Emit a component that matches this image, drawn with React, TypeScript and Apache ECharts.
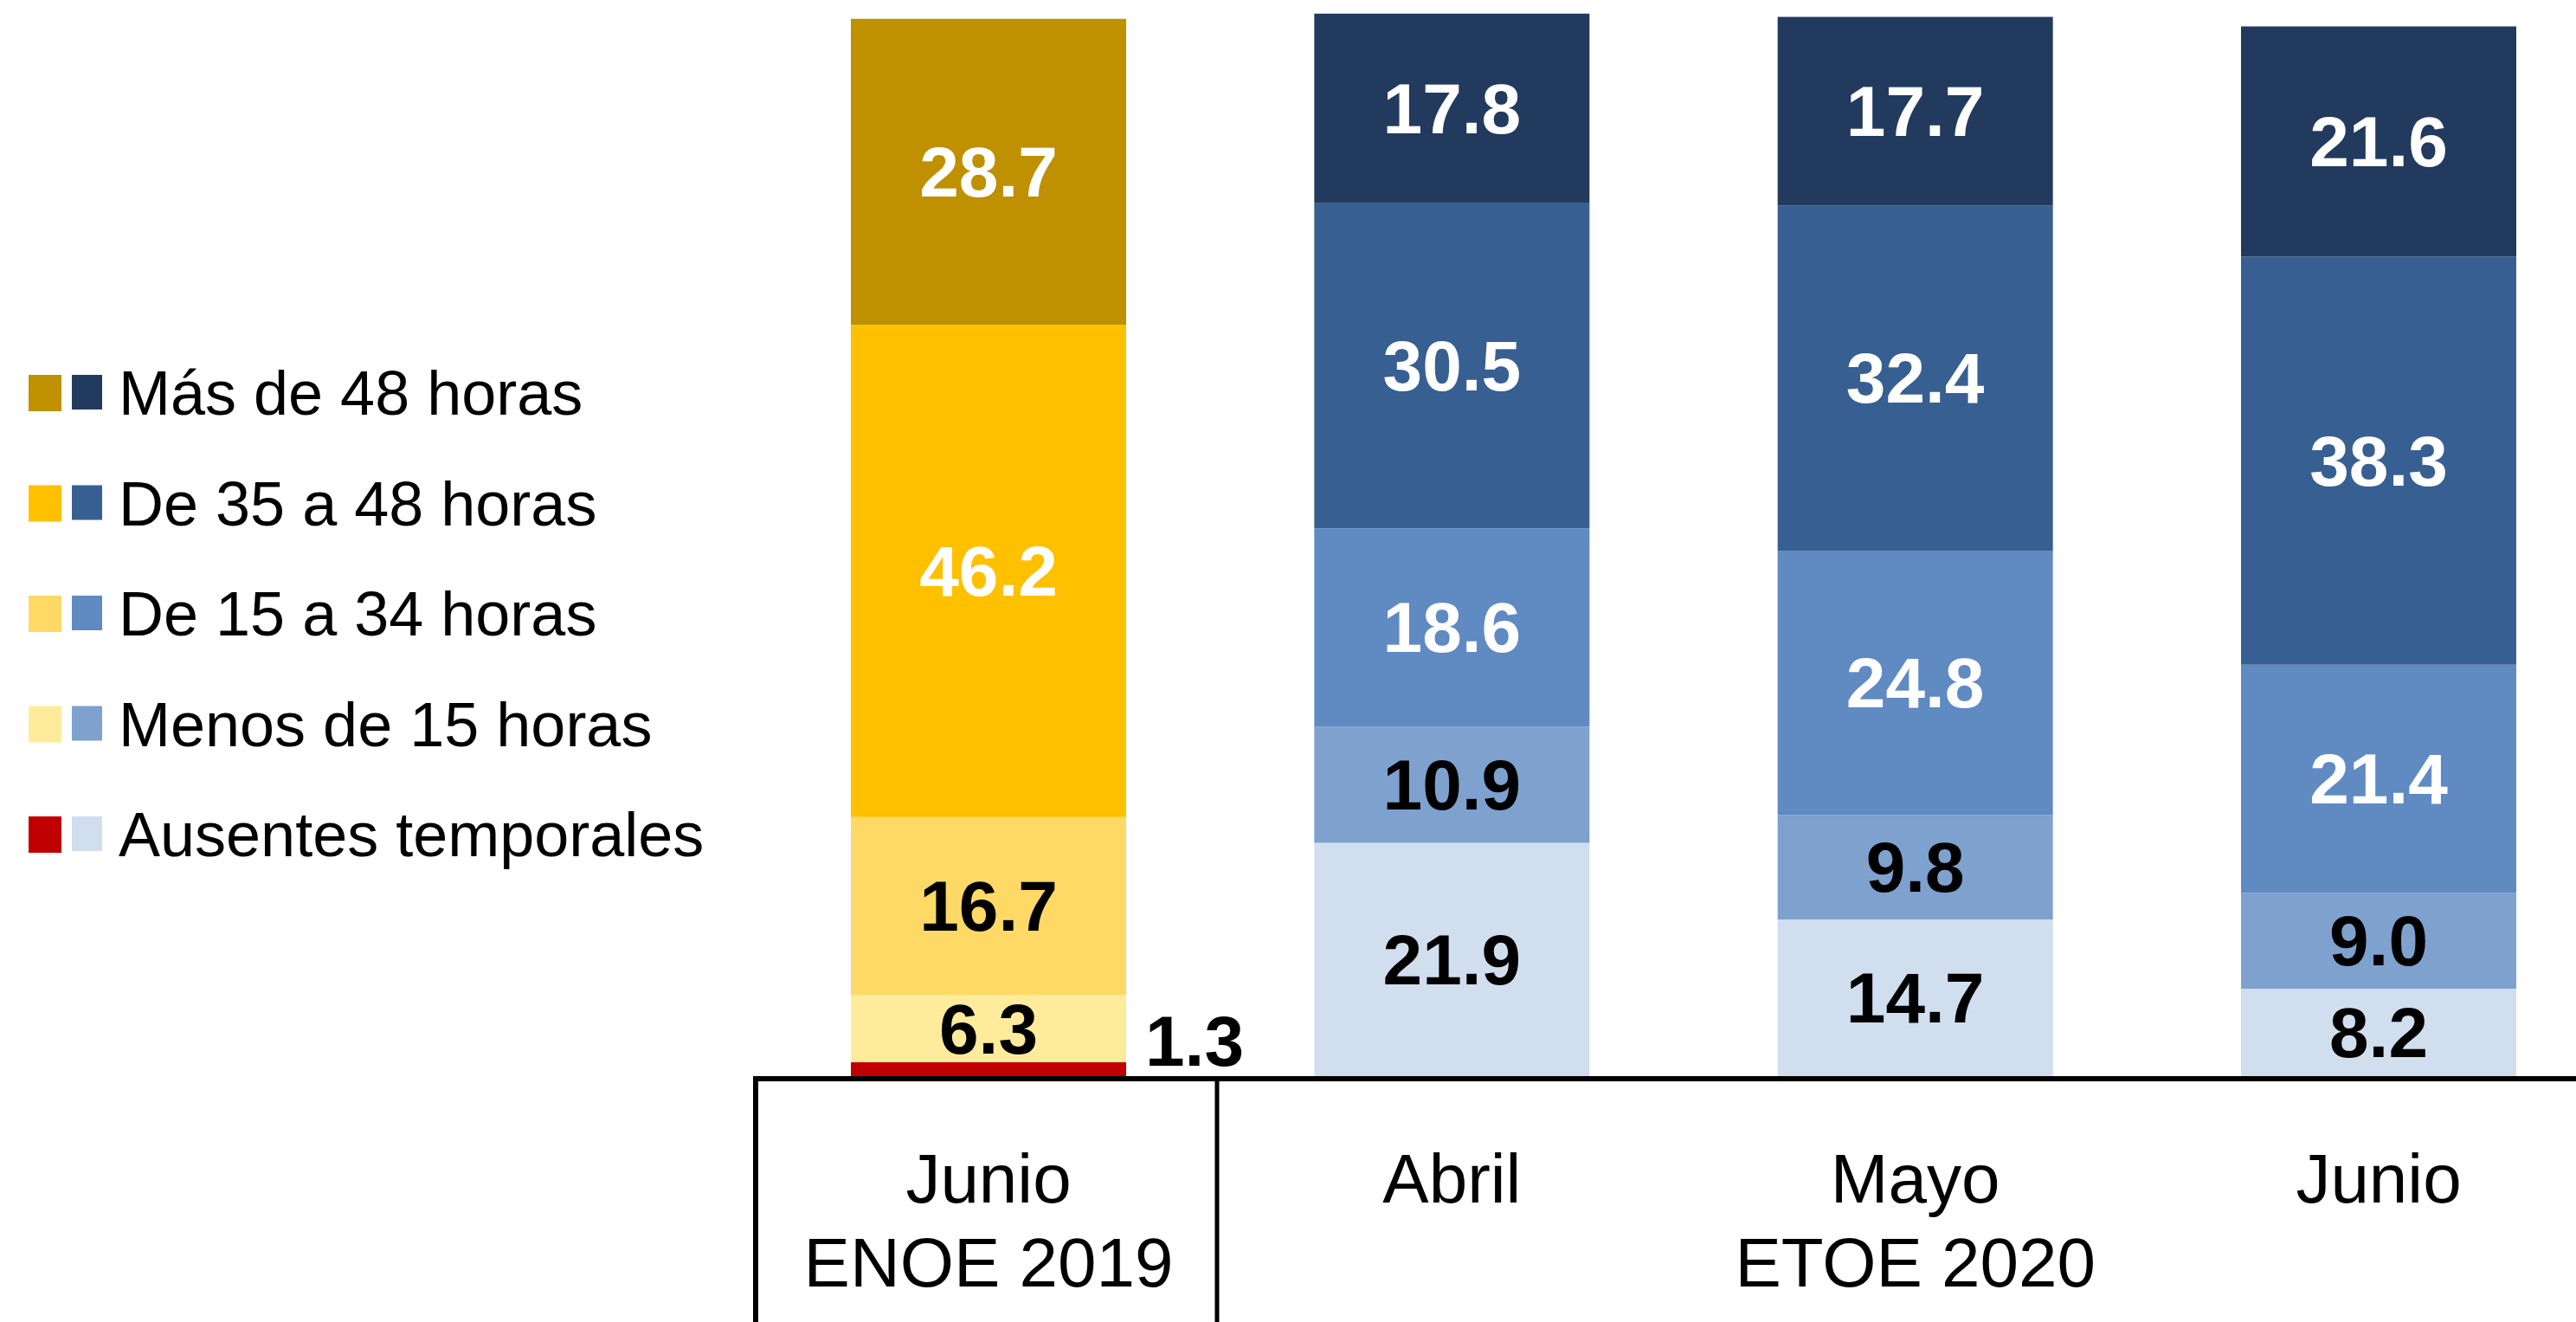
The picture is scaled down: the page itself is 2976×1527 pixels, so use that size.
import React, { useEffect, useRef } from "react";
import * as echarts from "echarts";

const categories = ["Junio\nENOE 2019", "Abril", "Mayo\nETOE 2020", "Junio"];
const seriesNames = [
  "Ausentes temporales",
  "Menos de 15 horas",
  "De 15 a 34 horas",
  "De 35 a 48 horas",
  "Más de 48 horas",
];
const ausentes = [1.3, 21.9, 14.7, 8.2];
const menos15 = [6.3, 10.9, 9.8, 9.0];
const de15a34 = [16.7, 18.6, 24.8, 21.4];
const de35a48 = [46.2, 30.5, 32.4, 38.3];
const mas48 = [28.7, 17.8, 17.7, 21.6];

const colors2019 = ["#C00000", "#FFEB9C", "#FFD966", "#FFC000", "#BF9000"];
const colors2020 = ["#D0DEEE", "#7EA1CE", "#5F8AC2", "#375F91", "#223A5E"];

const FONT = "'Liberation Sans', Arial, sans-serif";

export default function App() {
  const ref = useRef<HTMLDivElement>(null);

  useEffect(() => {
    if (!ref.current) return;
    const chart = echarts.init(ref.current, undefined, { renderer: "svg" });
    const allSeries = [ausentes, menos15, de15a34, de35a48, mas48];

    const series = allSeries.map((vals, s) => ({
      name: seriesNames[s],
      type: "bar",
      stack: "total",
      barWidth: 318,
      data: vals.map((v, i) => {
        const white = s >= 3 || (s === 2 && i > 0);
        const item: any = {
          value: v,
          itemStyle: { color: i === 0 ? colors2019[s] : colors2020[s] },
          label: {
            show: true,
            position: "inside",
            color: white ? "#FFFFFF" : "#000000",
            fontSize: 82,
            fontWeight: "bold",
            fontFamily: FONT,
            formatter: (p: any) => Number(p.value).toFixed(1),
          },
        };
        if (s === 0 && i === 0) {
          item.label.position = "right";
          item.label.distance = 22;
          item.label.offset = [0, -32];
        }
        return item;
      }),
    }));

    const legendRows = [4, 3, 2, 1, 0];
    const rowY = [454, 581.5, 709, 836.5, 964];
    const graphic: any[] = [];
    legendRows.forEach((s, r) => {
      const cy = rowY[r];
      graphic.push({
        type: "rect",
        shape: { x: 33, y: cy - 21, width: 38, height: 42 },
        style: { fill: colors2019[s] },
      });
      graphic.push({
        type: "rect",
        shape: { x: 83, y: cy - 21, width: 35, height: 40 },
        style: { fill: colors2020[s] },
      });
      graphic.push({
        type: "text",
        x: 137,
        y: cy,
        style: {
          text: seriesNames[s],
          fontSize: 72,
          fontFamily: FONT,
          fill: "#000",
          textVerticalAlign: "middle",
          verticalAlign: "middle",
        },
      });
    });
    graphic.push({
      type: "line",
      shape: { x1: 870, y1: 1246, x2: 2976, y2: 1246 },
      style: { stroke: "#000", lineWidth: 6 },
    });
    graphic.push({
      type: "line",
      shape: { x1: 873, y1: 1243, x2: 873, y2: 1527 },
      style: { stroke: "#000", lineWidth: 6 },
    });
    graphic.push({
      type: "line",
      shape: { x1: 1406, y1: 1243, x2: 1406, y2: 1527 },
      style: { stroke: "#000", lineWidth: 5 },
    });

    chart.setOption({
      animation: false,
      grid: { left: 1142, right: 228, top: 12, bottom: 284, containLabel: false },
      xAxis: {
        type: "category",
        data: categories,
        boundaryGap: false,
        axisLine: { show: false },
        axisTick: { show: false },
        splitLine: { show: false },
        axisLabel: {
          fontSize: 80,
          lineHeight: 97,
          color: "#000",
          fontFamily: FONT,
          margin: 70,
          interval: 0,
        },
      },
      yAxis: {
        type: "value",
        min: 0,
        max: 100,
        show: false,
        splitLine: { show: false },
      },
      series,
      graphic,
    });

    return () => chart.dispose();
  }, []);

  return (
    <div
      ref={ref}
      style={{ position: "absolute", left: 0, top: 0, width: 2976, height: 1527, background: "#fff" }}
    />
  );
}
